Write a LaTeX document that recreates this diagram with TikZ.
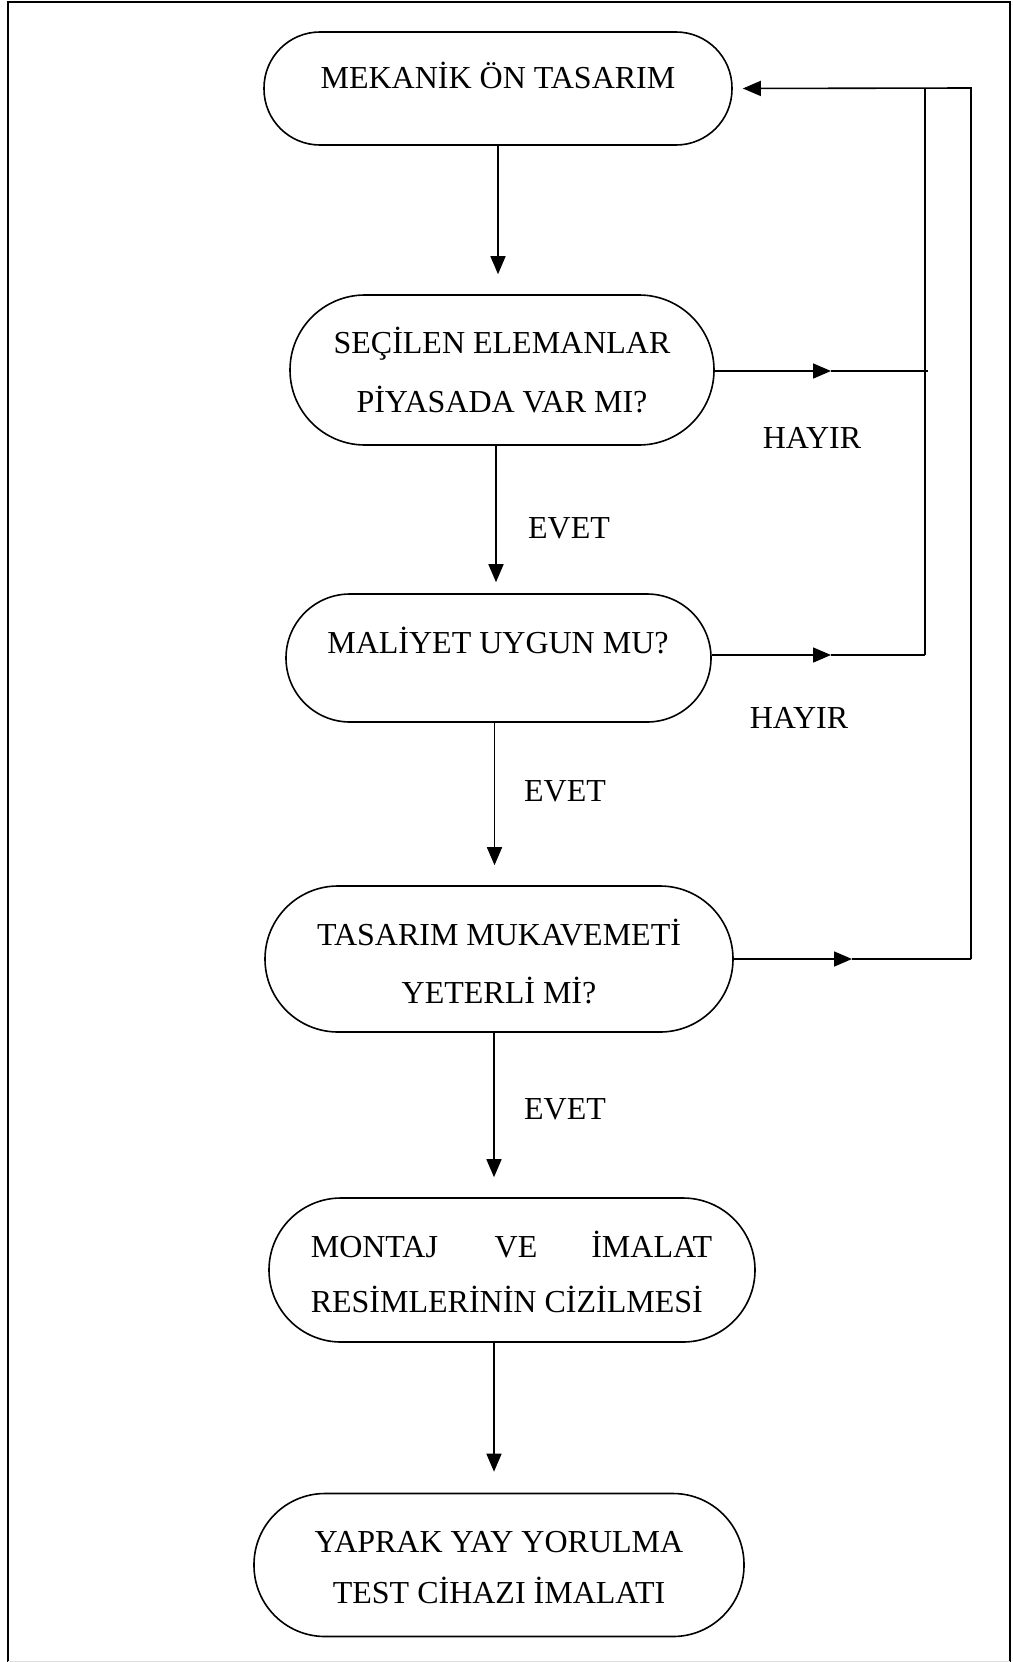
\documentclass[tikz,border=0pt]{standalone}
\usepackage{fontspec}
\setmainfont{Liberation Serif}
\usetikzlibrary{arrows.meta}
\begin{document}
\begin{tikzpicture}[x=1pt,y=-1pt,
  line width=1.6pt,
  stad/.style={draw, rectangle, rounded corners=#1, inner sep=0pt},
  lbl/.style={inner sep=0pt, font=\fontsize{32}{38}\selectfont, text height=0.66em, text depth=0pt},
  arr/.style={-{Triangle[length=18pt,width=15pt]}},
  gapped/.style={shorten >=20pt}
]
\useasboundingbox (0,0) rectangle (1012,1662);
% frame
\draw[line width=2.5pt] (8,1662) -- (8,2) -- (1010,2) -- (1010,1662);
\draw[gray!25, line width=1pt] (8,1661) -- (1010,1661);

% nodes (shapes)
\node[stad=56pt, minimum width=468pt, minimum height=113pt] (n1) at (498,88.5) {};
\node[stad=75pt, minimum width=424pt, minimum height=150pt] (n2) at (502,370) {};
\node[stad=64pt, minimum width=425pt, minimum height=128pt] (n3) at (498.5,658) {};
\node[stad=73pt, minimum width=468pt, minimum height=146pt] (n4) at (499,959) {};
\node[stad=72pt, minimum width=486pt, minimum height=144pt] (n5) at (512,1270) {};
\node[stad=71pt, minimum width=490pt, minimum height=143pt] (n6) at (499,1565) {};

% texts
\node[lbl] (t1) at (498,85) {MEKANİK ÖN TASARIM};
\node[lbl] (t2a) at (502,350) {SEÇİLEN ELEMANLAR};
\node[lbl] (t2b) at (502,409) {PİYASADA VAR MI?};
\node[lbl] (t3) at (498,650) {MALİYET UYGUN MU?};
\node[lbl] (t4a) at (499,942) {TASARIM MUKAVEMETİ};
\node[lbl] (t4b) at (499,1000) {YETERLİ Mİ?};
\node[lbl, anchor=west] (t5a) at (310,1254) {MONTAJ};
\node[lbl] (t5b) at (516,1254) {VE};
\node[lbl, anchor=east] (t5c) at (713,1254) {İMALAT};
\node[lbl, anchor=west] (t5d) at (310,1309) {RESİMLERİNİN CİZİLMESİ};
\node[lbl] (t6a) at (499,1549) {YAPRAK YAY YORULMA};
\node[lbl] (t6b) at (499,1600) {TEST CİHAZI İMALATI};

% labels
\node[lbl] (e1) at (569,535) {EVET};
\node[lbl] (e2) at (565,798) {EVET};
\node[lbl] (e3) at (565,1116) {EVET};
\node[lbl] (h1) at (812,445) {HAYIR};
\node[lbl] (h2) at (799,725) {HAYIR};

% vertical arrows
\draw[arr, gapped] (n1.south) -- (n1.south |- n2.north);
\draw[arr, shorten >=11pt] ([xshift=-6pt]n2.south) -- ([xshift=-6pt]n2.south |- n3.north);
\draw[arr, gapped] ([xshift=-4pt]n3.south) -- ([xshift=-4pt]n3.south |- n4.north);
\draw[arr, gapped] ([xshift=-5pt]n4.south) -- ([xshift=-5pt]n4.south |- n5.north);
\draw[arr, shorten >=21pt] ([xshift=-18pt]n5.south) -- ([xshift=-18pt]n5.south |- n6.north);

% feedback loop
\coordinate (m2) at (831,371);
\coordinate (j2) at (928,371);
\coordinate (m3) at (831,655);
\coordinate (j3) at (925,655);
\coordinate (m4) at (852,959);
\coordinate (j4) at (971,959);
\coordinate (top) at (971,88);
\coordinate (itop) at (925,88);

\draw[arr] (n2.east |- m2) -- (m2);
\draw (m2) -- (j2);
\draw[arr] (n3.east |- m3) -- (m3);
\draw (m3) -- (j3);
\draw[arr] (n4.east) -- (m4);
\draw (m4) -- (j4);
\draw (itop) -- (j3);
\draw[arr, shorten >=10pt] (j4) -- (top) -- (n1.east);
\end{tikzpicture}
\end{document}
